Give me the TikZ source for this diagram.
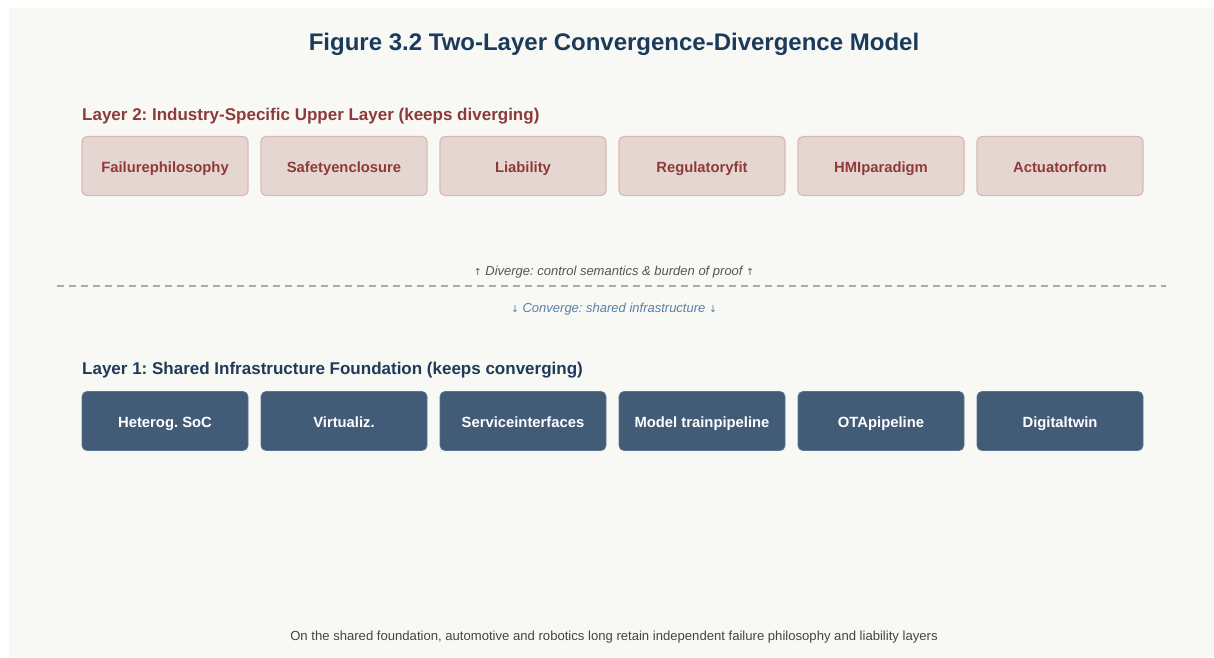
\documentclass[tikz,border=0pt]{standalone}
\usepackage{fontspec}
\setmainfont{Liberation Sans}
\newfontfamily\arrowfont{DejaVu Sans}
\frenchspacing
\definecolor{panelbg}{HTML}{F8F8F4}
\definecolor{titleblue}{HTML}{1B3A5C}
\definecolor{upperred}{HTML}{8E3A3A}
\definecolor{upperfill}{HTML}{E6D6D2}
\definecolor{upperline}{HTML}{D8B9B5}
\definecolor{lowerfill}{HTML}{425B77}
\definecolor{lowerline}{HTML}{5C7390}
\definecolor{lowerhead}{HTML}{1F3A5A}
\definecolor{divgray}{HTML}{555555}
\definecolor{convblue}{HTML}{5A7FA8}
\definecolor{dashgray}{HTML}{AAAAAA}
\definecolor{notegray}{HTML}{444444}
\tikzset{
  boxframe/.style={rounded corners=5pt, minimum width=166pt, minimum height=59pt, inner sep=0pt},
  upperbox/.style={boxframe, draw=upperline, line width=1.2pt, fill=upperfill},
  lowerbox/.style={boxframe, draw=lowerline, line width=0.8pt, fill=lowerfill},
  boxlabel/.style={anchor=base, inner sep=0pt, font=\bfseries\fontsize{14.8}{17}\selectfont},
  heading/.style={anchor=base west, inner sep=0pt, font=\bfseries\fontsize{17}{20}\selectfont},
  remark/.style={anchor=base, inner sep=0pt, font=\itshape\fontsize{13}{15}\selectfont},
}
\newcommand\smallarrow[1]{{\arrowfont\upshape\fontsize{9.5}{10}\selectfont#1}}
\begin{document}
\begin{tikzpicture}[x=1pt, y=-1pt]
  % page and panel
  \fill[white] (0,0) rectangle (1214,657);
  \fill[panelbg] (9,8) rectangle (1214,657);
  \useasboundingbox (0,0) rectangle (1214,657);

  \node[anchor=base, inner sep=0pt, text=titleblue, font=\bfseries\fontsize{24}{28}\selectfont] (title) at (614,50)
    {Figure 3.2 Two-Layer Convergence-Divergence Model};

  % upper layer
  \node[heading, text=upperred] (h2) at (82,120)
    {Layer 2: Industry-Specific Upper Layer (keeps diverging)};
  \foreach \name/\x/\txt in {u1/165/Failurephilosophy, u2/344/Safetyenclosure, u3/523/Liability,
                             u4/702/Regulatoryfit, u5/881/HMIparadigm, u6/1060/Actuatorform}{
    \node[upperbox] (\name) at (\x,166) {};
    \node[boxlabel, text=upperred] (\name-t) at (\x,172) {\txt};
  }

  % divide between the layers
  \node[remark, text=divgray] (div) at (614,275.5)
    {\smallarrow{↑} Diverge: control semantics \& burden of proof \smallarrow{↑}};
  \coordinate (dl) at (57,286);
  \coordinate (dr) at (1166,286);
  \draw[dashgray, line width=1.3pt, dash pattern=on 7pt off 5pt] (dl) -- (dr);
  \node[remark, text=convblue] (conv) at (614,312.5)
    {\smallarrow{↓} Converge: shared infrastructure \smallarrow{↓}};

  % lower layer
  \node[heading, text=lowerhead] (h1) at (82,374)
    {Layer 1: Shared Infrastructure Foundation (keeps converging)};
  \foreach \name/\x/\txt in {l1/165/Heterog. SoC, l2/344/Virtualiz., l3/523/Serviceinterfaces,
                             l4/702/Model trainpipeline, l5/881/OTApipeline, l6/1060/Digitaltwin}{
    \node[lowerbox] (\name) at (\x,421) {};
    \node[boxlabel, text=white] (\name-t) at (\x,427) {\txt};
  }

  \node[anchor=base, inner sep=0pt, text=notegray, font=\fontsize{13.1}{15}\selectfont] (note) at (614,640)
    {On the shared foundation, automotive and robotics long retain independent failure philosophy and liability layers};
\end{tikzpicture}
\end{document}
